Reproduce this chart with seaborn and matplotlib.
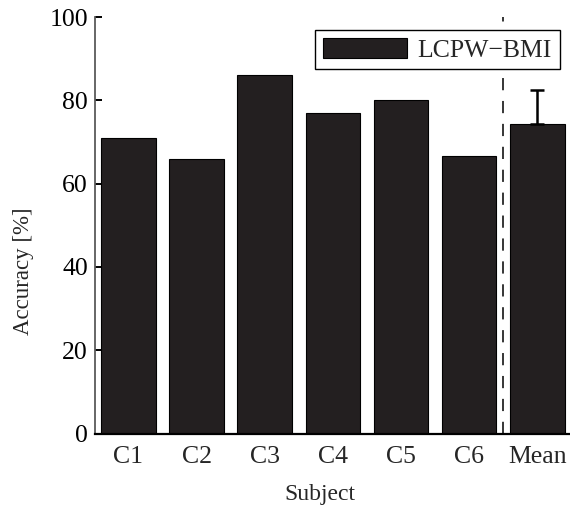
import matplotlib
matplotlib.use("Agg")
import matplotlib.pyplot as plt
import seaborn as sns
import pandas as pd

subjects = ["C1", "C2", "C3", "C4", "C5", "C6", "Mean"]
accuracy = [71.0, 66.0, 86.0, 77.0, 80.0, 66.6, 74.4]
mean_std = 8.0
series_name = "LCPW\u2212BMI"
yticks = [0, 20, 40, 60, 80, 100]

sns.set_theme(style="ticks")
plt.rcParams["font.family"] = ["Liberation Serif", "DejaVu Serif"]
plt.rcParams["mathtext.fontset"] = "stix"

df = pd.DataFrame({"Subject": subjects, "Accuracy": accuracy, "Method": series_name})

bar_color = "#231f20"

fig = plt.figure(figsize=(5.70, 5.09), dpi=100)
ax = fig.add_axes([0.1667, 0.1483, 0.838, 0.8183])

sns.barplot(data=df, x="Subject", y="Accuracy", hue="Method",
            palette=[bar_color], width=0.8, edgecolor="black",
            linewidth=0.8, saturation=1, ax=ax, zorder=2, legend=True)

# one-sided error bar on the mean
ax.errorbar([len(subjects) - 1], [accuracy[-1]], yerr=[[0], [mean_std]],
            fmt="none", ecolor="black", elinewidth=1.8, capsize=5,
            capthick=1.8, zorder=3)

# separator between subjects and the mean
ax.axvline(len(subjects) - 1.5, color="black", linewidth=1.1,
           linestyle=(0, (8, 7)), zorder=1)

ax.set_xlim(-0.49, 6.52)
ax.set_ylim(0, 100)
ax.set_yticks(yticks)
ax.set_yticklabels([str(t) for t in yticks])

ax.tick_params(axis="y", direction="in", length=5, width=1.4,
               labelsize=18.5, pad=5, colors="black")
ax.tick_params(axis="x", length=0, labelsize=18.5, pad=9)

ax.set_xlabel("Subject", fontsize=17)
ax.set_ylabel("Accuracy [%]", fontsize=16.5)
ax.xaxis.set_label_coords(0.47, -0.122)
ax.yaxis.set_label_coords(-0.128, 0.39)

for side in ["top", "right"]:
    ax.spines[side].set_visible(False)
ax.spines["left"].set_color("#5a5a5a")
ax.spines["left"].set_linewidth(1.3)
ax.spines["bottom"].set_color("black")
ax.spines["bottom"].set_linewidth(1.6)

leg = ax.legend(loc="upper right", fontsize=18.5, frameon=True, fancybox=False,
                edgecolor="black", framealpha=1, handlelength=3.3,
                handleheight=0.85, borderaxespad=0.5, borderpad=0.3,
                handletextpad=0.4)
leg.get_frame().set_linewidth(1.0)
leg.set_zorder(5)

fig.savefig("out.png", dpi=100)
